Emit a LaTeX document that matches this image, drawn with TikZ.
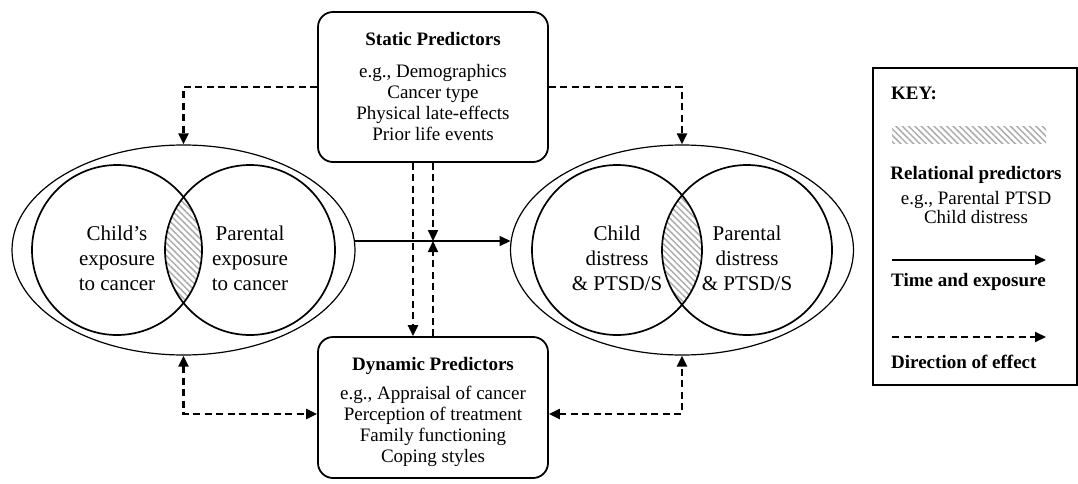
\documentclass[tikz,border=0pt]{standalone}
\usepackage{fontspec}
\setmainfont{Liberation Serif}
\usetikzlibrary{shapes.geometric,arrows.meta,patterns.meta}
\tikzset{
  outer/.style={draw,ellipse,line width=1.2pt,minimum width=343pt,minimum height=210pt,inner sep=0pt},
  circ/.style={draw,circle,line width=1.7pt,minimum size=170pt,inner sep=0pt},
  circtext/.style={align=center,font=\fontsize{21}{25}\selectfont},
  predtext/.style={align=center,font=\fontsize{19}{21}\selectfont},
  predbox/.style={predtext,draw,rounded corners=15pt,line width=1.8pt,minimum width=230pt},
  hatch/.style={pattern={Lines[angle=-45,distance=4.5pt,line width=1.5pt]},pattern color=gray!65},
  dasharrow/.style={line width=2.2pt,dash pattern=on 7pt off 4.5pt},
  keybold/.style={inner sep=0pt,font=\fontsize{19}{21}\selectfont\bfseries},
}
\begin{document}
\begin{tikzpicture}[x=1pt,y=-1pt,>={Triangle[length=11pt,width=10pt]}]
\useasboundingbox (0,0) rectangle (1078,484);
% Exposure
\node[outer] (lout) at (183.5,250) {};
\begin{scope}
  \clip (117,250) circle[radius=85pt];
  \fill[hatch] (250,250) circle[radius=85pt];
\end{scope}
\node[circ] (lchild) at (117,250) {};
\node[circ] (lpar) at (250,250) {};
\node[circtext] (lchildt) at ([yshift=-8pt]lchild.center) {Child's\\exposure\\to cancer};
\node[circtext] (lpart) at ([yshift=-8pt]lpar.center) {Parental\\exposure\\to cancer};
% Distress
\node[outer] (rout) at (682,250) {};
\begin{scope}
  \clip (617,250) circle[radius=85pt];
  \fill[hatch] (747,250) circle[radius=85pt];
\end{scope}
\node[circ] (rchild) at (617,250) {};
\node[circ] (rpar) at (747,250) {};
\node[circtext] (rchildt) at ([yshift=-8pt]rchild.center) {Child\\distress\\\& PTSD/S};
\node[circtext] (rpart) at ([yshift=-8pt]rpar.center) {Parental\\distress\\\& PTSD/S};
% Predictors
\node[predbox,minimum height=150pt] (static) at (433,87) {\textbf{Static Predictors}\\[11pt]e.g., Demographics\\Cancer type\\Physical late-effects\\Prior life events};
\node[predbox,minimum height=141pt] (dynamic) at (433,407.5) {};
\node[predtext] (dynamict) at ([yshift=-4pt]dynamic.center) {\textbf{Dynamic Predictors}\\[8pt]e.g., Appraisal of cancer\\Perception of treatment\\Family functioning\\Coping styles};
% Connectors
\draw[->,line width=1.5pt] (lout.3) -- (rout.177);
\coordinate (meet) at (static.south |- lout.3);
\draw[dasharrow,->] (static.west) -| (lout.north);
\draw[dasharrow,->] (static.east) -| (rout.north);
\draw[dasharrow,->] ([xshift=-20pt]static.south) -- ([xshift=-20pt]dynamic.north);
\draw[dasharrow,->] (static.south) -- (meet);
\draw[dasharrow,->] (dynamic.north) -- (meet);
\draw[dasharrow,<->] (lout.south) |- ([yshift=-6.5pt]dynamic.west);
\draw[dasharrow,<->] ([yshift=-6.5pt]dynamic.east) -| (rout.south);
% Key
\draw[line width=1.2pt] (873,68) rectangle (1077,385);
\node[keybold,anchor=west] (keyt) at (891,93) {KEY:};
\fill[hatch] (892,127) rectangle (1046,143);
\node[keybold] (rel) at (976,175) {Relational predictors};
\node[align=center,font=\fontsize{19}{19}\selectfont] (releg) at (976,207) {e.g., Parental PTSD\\Child distress};
\coordinate (s1) at (892,260);
\coordinate (s2) at (1046,260);
\draw[->,line width=1.5pt] (s1) -- (s2);
\node[keybold,anchor=west] (time) at (891,282) {Time and exposure};
\coordinate (d1) at (892,337);
\coordinate (d2) at (1046,337);
\draw[dasharrow,line width=1.8pt,->] (d1) -- (d2);
\node[keybold,anchor=west] (dir) at (891,362) {Direction of effect};
\end{tikzpicture}
\end{document}
